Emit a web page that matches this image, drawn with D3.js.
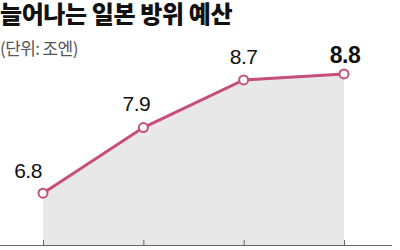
<!DOCTYPE html>
<html>
<head>
<meta charset="utf-8">
<script src="https://cdn.jsdelivr.net/npm/d3@7"></script>
<style>
  html, body { margin: 0; padding: 0; background: #fff; }
  svg { display: block; }
  .title { font-family: "Noto Sans CJK KR", sans-serif; font-weight: 900; font-size: 24px; fill: #111; }
  .unit { font-family: "Noto Sans CJK KR", sans-serif; font-size: 17px; fill: #555; }
  .val { font-family: "Liberation Sans", Arial, sans-serif; font-size: 21px; fill: #111; letter-spacing: -0.5px; }
  .val.last { font-weight: 700; font-size: 23px; }
</style>
</head>
<body>
<svg id="chart" width="400" height="250"></svg>
<script>
// data
const years = ["2023", "2024", "2025", "2026"];
const budget = [6.8, 7.9, 8.7, 8.8];
const valueLabels = ["6.8", "7.9", "8.7", "8.8"];
const titleText = "늘어나는 일본 방위 예산";
const unitText = "(단위: 조엔)";

const svg = d3.select("#chart");
const W = 400, H = 250;
const m = { left: 43, right: 56, top: 62, bottom: 5 };
const data = years.map((y, i) => ({ year: y, value: budget[i], label: valueLabels[i] }));

const x = d3.scalePoint().domain(years).range([m.left, W - m.right]);
const y = d3.scaleLinear().domain([5.93, 9.0]).range([H - m.bottom, m.top]);
const base = H - m.bottom;

// grey area under line
svg.append("path").datum(data)
  .attr("fill", "#e8e8e8")
  .attr("d", d3.area().x((d) => x(d.year)).y0(base).y1((d) => y(d.value)));

// x axis: line across full width with ticks going up
svg.append("line").attr("x1", 0).attr("x2", 392).attr("y1", base + 0.5).attr("y2", base + 0.5)
  .attr("stroke", "#666").attr("stroke-width", 1.2);
const ax = svg.append("g").attr("transform", `translate(0,${base})`)
  .call(d3.axisTop(x).tickSize(5).tickFormat(""));
ax.select(".domain").remove();
ax.selectAll("line").attr("stroke", "#666");

// line
svg.append("path").datum(data)
  .attr("fill", "none").attr("stroke", "#c64f7a").attr("stroke-width", 3)
  .attr("d", d3.line().x((d) => x(d.year)).y((d) => y(d.value)));

svg.selectAll("circle.pt").data(data).join("circle")
  .attr("class", "pt")
  .attr("cx", (d) => x(d.year)).attr("cy", (d) => y(d.value))
  .attr("r", 4.5).attr("fill", "#fff").attr("stroke", "#c64f7a").attr("stroke-width", 2);

// value labels
const dx = [-15, -7, 0, 1];
const dy = [-15, -17, -16, -11];
svg.selectAll("text.val").data(data).join("text")
  .attr("class", (d, i) => "val" + (i === data.length - 1 ? " last" : ""))
  .attr("x", (d, i) => x(d.year) + dx[i]).attr("y", (d, i) => y(d.value) + dy[i])
  .attr("text-anchor", "middle").text((d) => d.label);

// titles
svg.append("text").attr("class", "title").attr("x", 0).attr("y", 23).attr("letter-spacing", -0.4).text(titleText);
svg.append("text").attr("class", "unit").attr("x", 0).attr("y", 55).attr("letter-spacing", -0.6).text(unitText);
</script>
</body>
</html>
